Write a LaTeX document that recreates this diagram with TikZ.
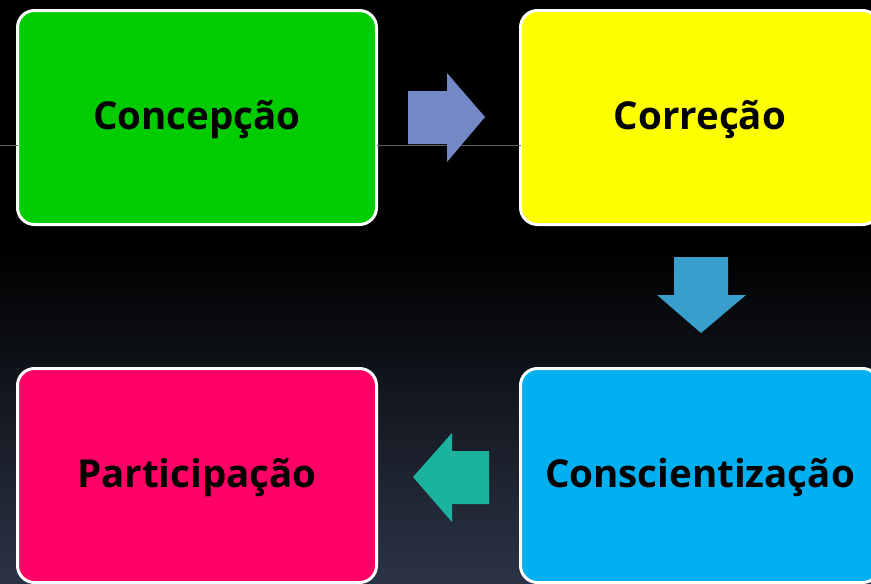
\documentclass[tikz,border=0pt]{standalone}
\usepackage{fontspec}
\setmainfont{Open Sans}
\usetikzlibrary{positioning}
\definecolor{bgbot}{RGB}{43,52,70}
\definecolor{cgreen}{RGB}{0,204,0}
\definecolor{cyellow}{RGB}{255,255,0}
\definecolor{cblue}{RGB}{0,176,240}
\definecolor{cpink}{RGB}{255,0,102}
\definecolor{arrA}{RGB}{115,137,197}
\definecolor{arrB}{RGB}{56,159,204}
\definecolor{arrC}{RGB}{27,179,157}
\definecolor{rule}{RGB}{95,95,95}
\tikzset{
	stage/.style={rectangle, rounded corners=17pt, draw=white, line width=3pt, minimum width=359pt, minimum height=214pt, outer sep=0pt, inner sep=0pt, text height=23pt, text depth=0pt, font=\fontsize{38.5}{46}\selectfont\bfseries, text=black},
	blockarrow/.style={draw=none}
}
\begin{document}
\begin{tikzpicture}[x=1pt, y=-1pt, node distance=144pt]
	\useasboundingbox (0,0) rectangle (871,584);
	\clip (0,0) rectangle (871,584);
	\fill[black] (0,0) rectangle (871,584);
	\shade[top color=black, bottom color=bgbot] (0,250) rectangle (871,584.5);
	
	\node at (197,117.5) [stage, fill=cgreen] (conc) {Concepção};
	\node [stage, fill=cyellow, right=of conc] (corr) {Correção};
	\node [stage, fill=cblue, below=of corr] (consc) {Conscientização};
	\node [stage, fill=cpink, left=of consc] (part) {Participação};
	
	\coordinate (lstart) at (0,145);
	\draw[rule, line width=1pt] (lstart) -- (lstart -| conc.west);
	\draw[rule, line width=1pt] (lstart -| conc.east) -- (lstart -| corr.west);
	
	\fill[blockarrow, arrA] (408,91) -- (447,91) -- (447,73) -- (485,117) -- (447,162) -- (447,144) -- (408,144) -- cycle;
	\fill[blockarrow, arrB] (674,257) -- (728,257) -- (728,295) -- (746,295) -- (701,333) -- (657,295) -- (674,295) -- cycle;
	\fill[blockarrow, arrC] (489,451) -- (452,451) -- (452,433) -- (413,477) -- (452,522) -- (452,504) -- (489,504) -- cycle;
\end{tikzpicture}
\end{document}
